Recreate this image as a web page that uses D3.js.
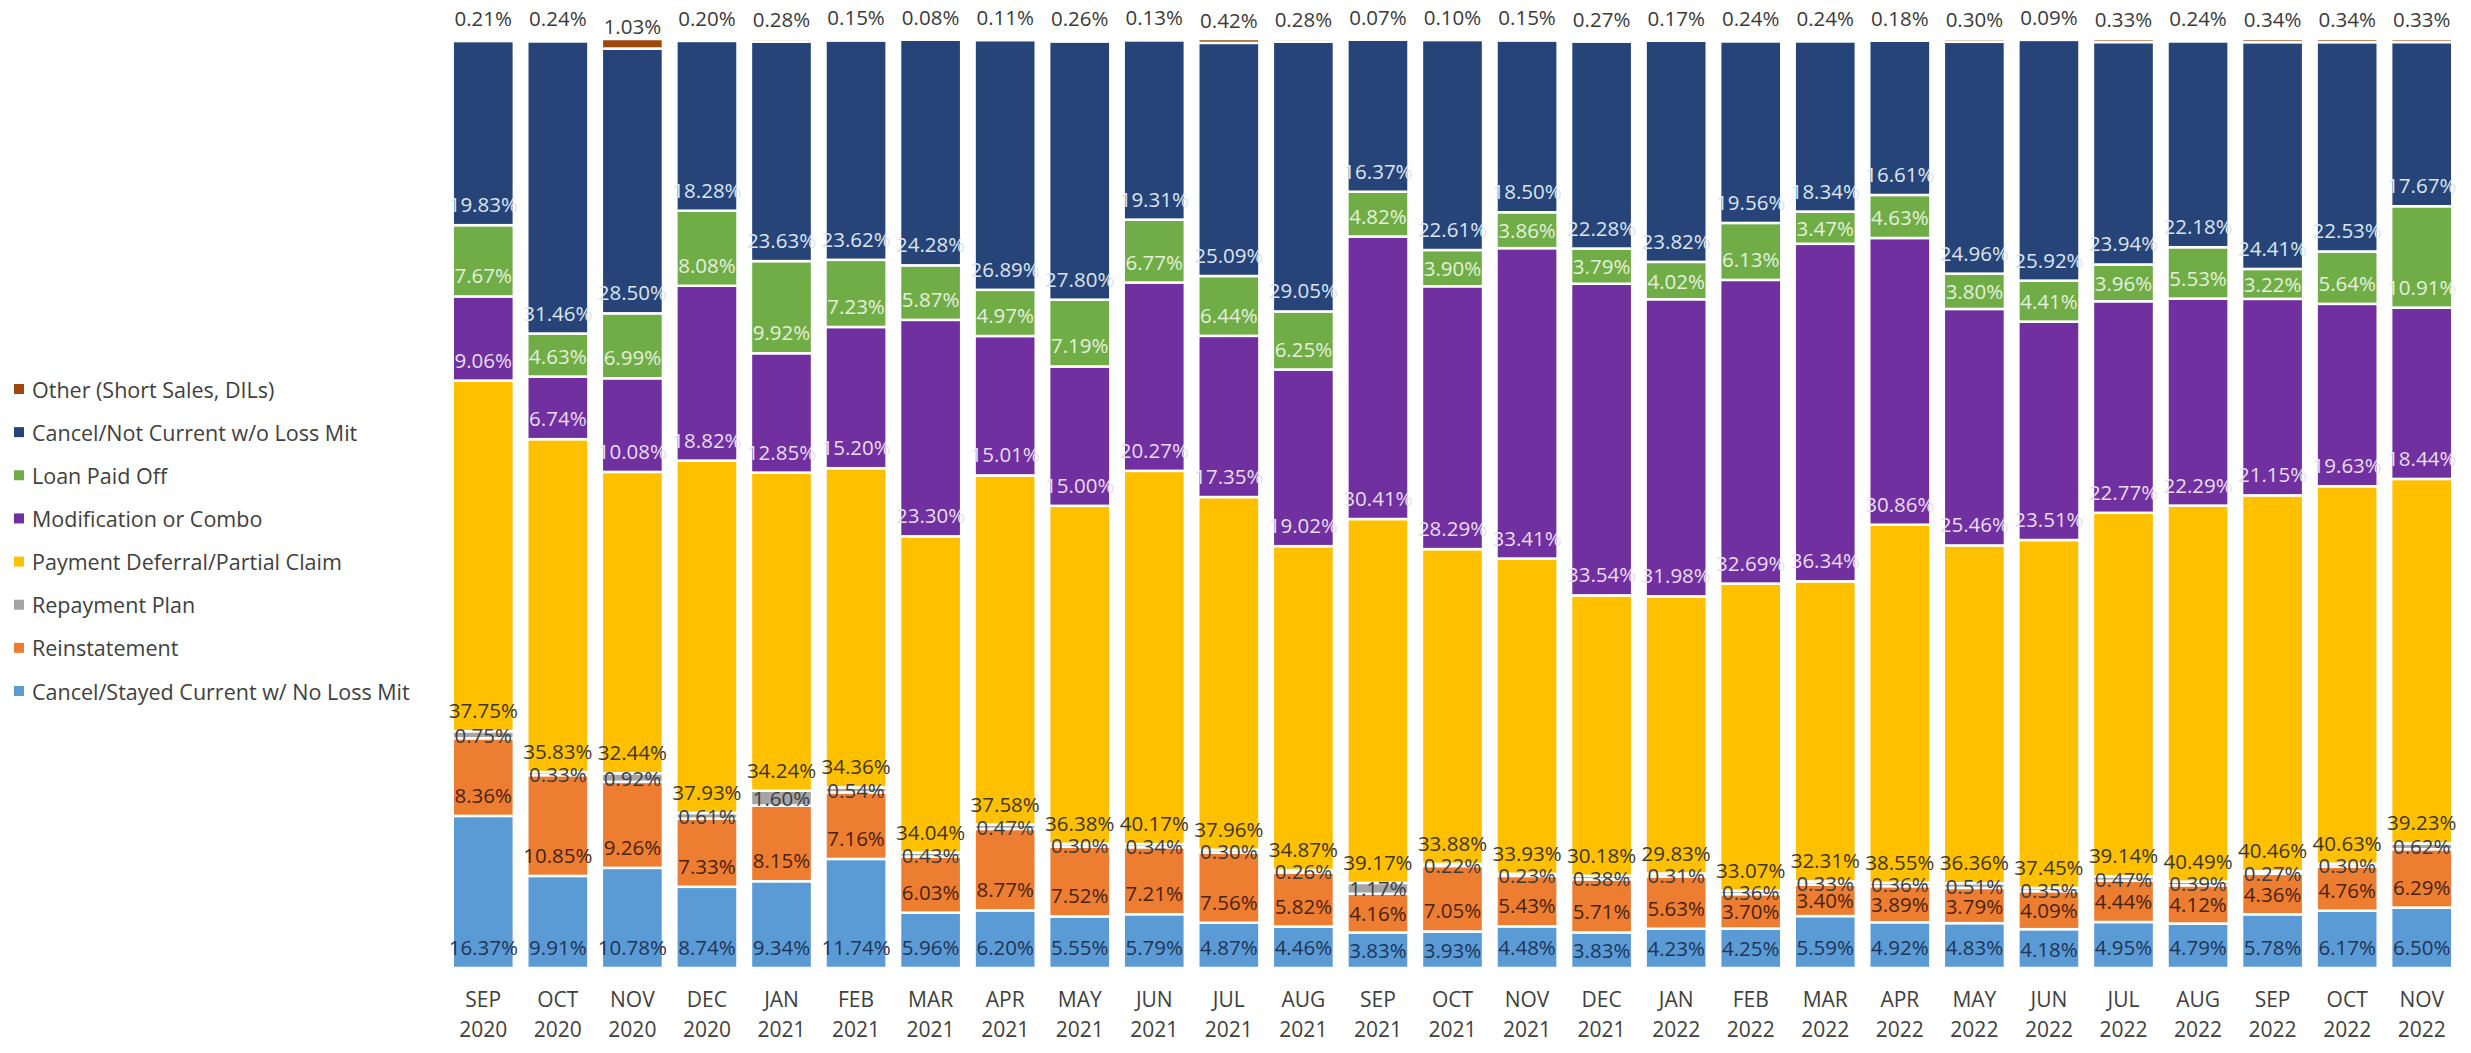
<!DOCTYPE html>
<html>
<head>
<meta charset="utf-8">
<script src="https://cdn.jsdelivr.net/npm/d3@7"></script>
<style>
  html, body { margin: 0; padding: 0; background: #ffffff; }
  svg { display: block; font-family: "Open Sans", "Noto Sans", sans-serif; }
</style>
</head>
<body>
<svg id="chart" width="2471" height="1053"></svg>
<script>
// Monthly outcome shares (percent of loans), Sep 2020 – Nov 2022
const periods = ["SEP 2020","OCT 2020","NOV 2020","DEC 2020","JAN 2021","FEB 2021","MAR 2021","APR 2021","MAY 2021","JUN 2021","JUL 2021","AUG 2021","SEP 2021","OCT 2021","NOV 2021","DEC 2021","JAN 2022","FEB 2022","MAR 2022","APR 2022","MAY 2022","JUN 2022","JUL 2022","AUG 2022","SEP 2022","OCT 2022","NOV 2022"];

const stayedCurrent = [16.37, 9.91, 10.78, 8.74, 9.34, 11.74, 5.96, 6.20, 5.55, 5.79, 4.87, 4.46, 3.83, 3.93, 4.48, 3.83, 4.23, 4.25, 5.59, 4.92, 4.83, 4.18, 4.95, 4.79, 5.78, 6.17, 6.50];
const reinstatement = [8.36, 10.85, 9.26, 7.33, 8.15, 7.16, 6.03, 8.77, 7.52, 7.21, 7.56, 5.82, 4.16, 7.05, 5.43, 5.71, 5.63, 3.70, 3.40, 3.89, 3.79, 4.09, 4.44, 4.12, 4.36, 4.76, 6.29];
const repaymentPlan = [0.75, 0.33, 0.92, 0.61, 1.60, 0.54, 0.43, 0.47, 0.30, 0.34, 0.30, 0.26, 1.17, 0.22, 0.23, 0.38, 0.31, 0.36, 0.33, 0.36, 0.51, 0.35, 0.47, 0.39, 0.27, 0.30, 0.62];
const paymentDeferral = [37.75, 35.83, 32.44, 37.93, 34.24, 34.36, 34.04, 37.58, 36.38, 40.17, 37.96, 34.87, 39.17, 33.88, 33.93, 30.18, 29.83, 33.07, 32.31, 38.55, 36.36, 37.45, 39.14, 40.49, 40.46, 40.63, 39.23];
const modification = [9.06, 6.74, 10.08, 18.82, 12.85, 15.20, 23.30, 15.01, 15.00, 20.27, 17.35, 19.02, 30.41, 28.29, 33.41, 33.54, 31.98, 32.69, 36.34, 30.86, 25.46, 23.51, 22.77, 22.29, 21.15, 19.63, 18.44];
const loanPaidOff = [7.67, 4.63, 6.99, 8.08, 9.92, 7.23, 5.87, 4.97, 7.19, 6.77, 6.44, 6.25, 4.82, 3.90, 3.86, 3.79, 4.02, 6.13, 3.47, 4.63, 3.80, 4.41, 3.96, 5.53, 3.22, 5.64, 10.91];
const notCurrent = [19.83, 31.46, 28.50, 18.28, 23.63, 23.62, 24.28, 26.89, 27.80, 19.31, 25.09, 29.05, 16.37, 22.61, 18.50, 22.28, 23.82, 19.56, 18.34, 16.61, 24.96, 25.92, 23.94, 22.18, 24.41, 22.53, 17.67];
const otherOutcome = [0.21, 0.24, 1.03, 0.20, 0.28, 0.15, 0.08, 0.11, 0.26, 0.13, 0.42, 0.28, 0.07, 0.10, 0.15, 0.27, 0.17, 0.24, 0.24, 0.18, 0.30, 0.09, 0.33, 0.24, 0.34, 0.34, 0.33];

// Series from the bottom of each bar upward
const seriesKeys = ["stayed", "reinst", "repay", "deferral", "mod", "paid", "notcur", "other"];
const seriesNames = {
  stayed: "Cancel/Stayed Current w/ No Loss Mit",
  reinst: "Reinstatement",
  repay: "Repayment Plan",
  deferral: "Payment Deferral/Partial Claim",
  mod: "Modification or Combo",
  paid: "Loan Paid Off",
  notcur: "Cancel/Not Current w/o Loss Mit",
  other: "Other (Short Sales, DILs)"
};
const seriesValues = {
  stayed: stayedCurrent, reinst: reinstatement, repay: repaymentPlan, deferral: paymentDeferral,
  mod: modification, paid: loanPaidOff, notcur: notCurrent, other: otherOutcome
};
const fillColor = {
  stayed: "#5B9BD5", reinst: "#ED7D31", repay: "#A5A5A5", deferral: "#FFC000",
  mod: "#7030A0", paid: "#70AD47", notcur: "#264478", other: "#9E480E"
};
const labelColor = {
  stayed: "#1F3457", reinst: "#4A230E", repay: "#3C3C3C", deferral: "#3D3726",
  mod: "#EADDF3", paid: "#E4F0DB", notcur: "#DCE4F2", other: "#3A3A3A"
};

const rows = periods.map((p, i) => {
  const r = { period: p };
  seriesKeys.forEach(k => r[k] = seriesValues[k][i]);
  return r;
});

const svg = d3.select("#chart");

const x = d3.scaleBand()
  .domain(periods)
  .range([446, 2459])
  .paddingInner(0.18)
  .paddingOuter(0.09);

const y = d3.scaleLinear().domain([0, 1]).range([968, 39]);

const stacked = d3.stack()
  .keys(seriesKeys)
  .offset(d3.stackOffsetExpand)(rows);

// Bars
const layers = svg.append("g").selectAll("g")
  .data(stacked)
  .join("g")
  .attr("fill", d => fillColor[d.key]);

layers.selectAll("rect")
  .data(d => d.map(v => ({ key: d.key, v })))
  .join("rect")
  .attr("x", d => x(d.v.data.period))
  .attr("width", x.bandwidth())
  .attr("y", d => y(d.v[1]))
  .attr("height", d => Math.max(0, y(d.v[0]) - y(d.v[1])))
  .attr("stroke", "#ffffff")
  .attr("stroke-width", 2.5);

// Value labels: placed near the base of each segment, centred when the segment is short
const boxH = 42;
const labels = svg.append("g")
  .attr("font-size", 20.5)
  .attr("text-anchor", "middle");

stacked.forEach(layer => {
  labels.selectAll(null)
    .data(layer)
    .join("text")
    .attr("x", d => x(d.data.period) + x.bandwidth() / 2)
    .attr("y", d => {
      const top = y(d[1]), bottom = y(d[0]);
      if (layer.key === "other") return bottom - 23;
      return (bottom - top) >= boxH ? bottom - boxH / 2 : (top + bottom) / 2;
    })
    .attr("dominant-baseline", "central")
    .attr("fill", labelColor[layer.key])
    .text(d => d.data[layer.key].toFixed(2) + "%");
});

// Category axis: month over year
const axis = svg.append("g")
  .attr("font-size", 21)
  .attr("fill", "#404040")
  .attr("text-anchor", "middle");

axis.selectAll("text")
  .data(periods)
  .join("text")
  .attr("x", d => x(d) + x.bandwidth() / 2)
  .attr("y", 1000)
  .each(function (d) {
    const [m, yr] = d.split(" ");
    const t = d3.select(this);
    t.append("tspan").attr("x", x(d) + x.bandwidth() / 2).attr("dy", "0.35em").text(m);
    t.append("tspan").attr("x", x(d) + x.bandwidth() / 2).attr("dy", "1.43em").text(yr);
  });

// Legend, top series first
const legendKeys = seriesKeys.slice().reverse();
const legend = svg.append("g").attr("font-size", 21.5).attr("fill", "#404040");
const legendY = d3.scalePoint().domain(legendKeys).range([389, 691]);

const items = legend.selectAll("g")
  .data(legendKeys)
  .join("g")
  .attr("transform", d => `translate(0,${legendY(d)})`);

items.append("rect")
  .attr("x", 14).attr("y", -5).attr("width", 10).attr("height", 10)
  .attr("fill", d => fillColor[d]);

items.append("text")
  .attr("x", 32).attr("y", 0)
  .attr("dominant-baseline", "central")
  .text(d => seriesNames[d]);
</script>
</body>
</html>
